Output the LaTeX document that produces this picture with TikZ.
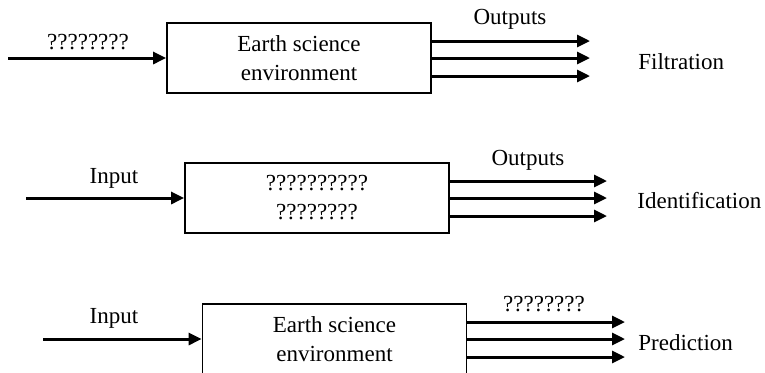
\documentclass[tikz,border=0pt]{standalone}
\usepackage{fontspec}
\setmainfont{Liberation Serif}
\usetikzlibrary{arrows.meta}
\begin{document}
\begin{tikzpicture}[x=0.5pt,y=-0.5pt,
  font=\fontsize{11.5}{14.5}\selectfont,
  sysbox/.style={draw,line width=0.9pt,minimum width=132pt,minimum height=35pt,align=center,inner sep=0pt},
  flow/.style={line width=1.5pt,-{Triangle[length=6.5pt,width=6pt]}},
  lbl/.style={inner sep=0pt}]
\useasboundingbox (0,0) rectangle (765,372);
% row 1
\node[sysbox] (b1) at (299,58) {Earth science\\environment};
\coordinate (i1) at (8,58);
\draw[flow] (i1) -- (b1.west);
\node[lbl] (l1) at (88,42) {????????};
\coordinate (o1a) at (590,41);
\coordinate (o1b) at (590,58);
\coordinate (o1c) at (590,76);
\draw[flow] (b1.east |- o1a) -- (o1a);
\draw[flow] (b1.east) -- (o1b);
\draw[flow] (b1.east |- o1c) -- (o1c);
\node[lbl] (t1) at (510,19) {Outputs};
\node[lbl,anchor=west] (r1) at (638,62) {Filtration};
% row 2
\node[sysbox] (b2) at (317,198) {??????????\\????????};
\coordinate (i2) at (26,198);
\draw[flow] (i2) -- (b2.west);
\node[lbl] (l2) at (114,178) {Input};
\coordinate (o2a) at (607,181);
\coordinate (o2b) at (607,198);
\coordinate (o2c) at (607,216);
\draw[flow] (b2.east |- o2a) -- (o2a);
\draw[flow] (b2.east) -- (o2b);
\draw[flow] (b2.east |- o2c) -- (o2c);
\node[lbl] (t2) at (528,160) {Outputs};
\node[lbl,anchor=west] (r2) at (637,201) {Identification};
% row 3
\node[sysbox] (b3) at (334.5,339) {Earth science\\environment};
\coordinate (i3) at (43,339);
\draw[flow] (i3) -- (b3.west);
\node[lbl] (l3) at (114,318) {Input};
\coordinate (o3a) at (625,322);
\coordinate (o3b) at (625,339);
\coordinate (o3c) at (625,357);
\draw[flow] (b3.east |- o3a) -- (o3a);
\draw[flow] (b3.east) -- (o3b);
\draw[flow] (b3.east |- o3c) -- (o3c);
\node[lbl] (t3) at (544,304) {????????};
\node[lbl,anchor=west] (r3) at (638,343) {Prediction};
\end{tikzpicture}
\end{document}
